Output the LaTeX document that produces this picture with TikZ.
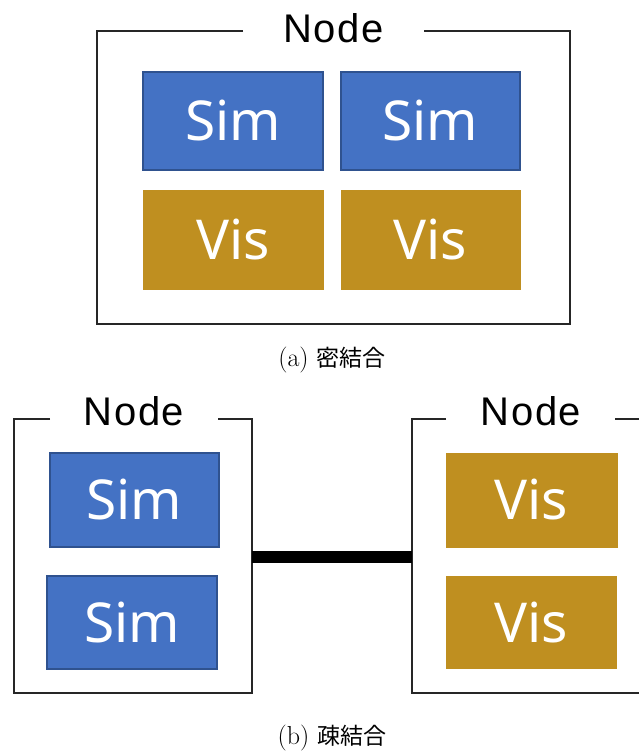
\documentclass[tikz,border=0pt]{standalone}
\usepackage{fontspec}
\newfontfamily\boxfont{Noto Sans}
\newfontfamily\labelfont[LetterSpace=4]{Liberation Sans}
\newfontfamily\cjk{Noto Sans CJK JP}
\definecolor{simblue}{RGB}{68,114,196}
\definecolor{simedge}{RGB}{47,82,143}
\definecolor{visgold}{RGB}{191,143,32}
\tikzset{
  unit/.style={inner sep=0pt, text=white, font=\boxfont\fontsize{55}{58}\selectfont},
  simbox/.style={unit, fill=simblue, draw=simedge, line width=1.5pt},
  visbox/.style={unit, fill=visgold, draw=visgold, line width=0.5pt},
  frame/.style={line width=2pt, black!85},
  nodelabel/.style={inner sep=0pt, font=\labelfont\fontsize{40}{44}\selectfont},
  caption/.style={inner sep=0pt, font=\fontsize{26}{28}\selectfont},
  link/.style={line width=12pt, black}
}
\newcommand{\cjkcap}[1]{{\cjk\fontsize{23}{26}\selectfont #1}}
\begin{document}
\begin{tikzpicture}[x=1pt,y=-1pt]
\useasboundingbox (0,0) rectangle (639,753);

% (a) tightly coupled: one compute node with simulation and visualisation
\draw[frame] (243,31) -- (97,31) -- (97,324) -- (570,324) -- (570,31) -- (424,31);
\node[nodelabel] (labA) at (333.5,28) {Node};
\node[simbox, minimum width=180pt, minimum height=98pt] (simA1) at (233,121) {Sim};
\node[simbox, minimum width=179pt, minimum height=98pt] (simA2) at (430.5,121) {Sim};
\node[visbox, minimum width=180pt, minimum height=99pt] (visA1) at (233,239.5) {Vis};
\node[visbox, minimum width=179pt, minimum height=99pt] (visA2) at (430.5,239.5) {Vis};
\node[caption] (capA) at (332,360) {(a)\hspace{8pt}\cjkcap{密結合}};

% (b) loosely coupled: two nodes joined by a link
\draw[frame] (50,419) -- (14,419) -- (14,693) -- (252,693) -- (252,419) -- (218,419);
\node[nodelabel] (labB1) at (134,411) {Node};
\node[simbox, minimum width=169pt, minimum height=94pt] (simB1) at (134.5,500) {Sim};
\node[simbox, minimum width=170pt, minimum height=93pt] (simB2) at (132,622.5) {Sim};

\draw[frame] (446,419) -- (412,419) -- (412,693) -- (650,693) -- (650,419) -- (615,419);
\node[nodelabel] (labB2) at (531,411) {Node};
\node[visbox, minimum width=171pt, minimum height=94pt] (visB1) at (531.5,500) {Vis};
\node[visbox, minimum width=170pt, minimum height=92pt] (visB2) at (531,622) {Vis};

\coordinate (leftEdge) at (252,557);
\coordinate (rightEdge) at (412,557);
\draw[link] (leftEdge) -- (rightEdge);
\node[caption] (capB) at (332,738) {(b)\hspace{8pt}\cjkcap{疎結合}};
\end{tikzpicture}
\end{document}
